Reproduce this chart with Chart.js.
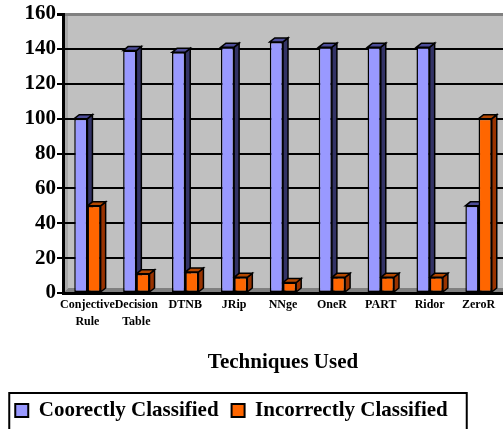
<!DOCTYPE html>
<html>
<head>
<meta charset="utf-8">
<script src="https://cdn.jsdelivr.net/npm/chart.js@4/dist/chart.umd.min.js"></script>
<style>
  html, body { margin: 0; padding: 0; background: #fff; }
  #wrap { width: 503px; height: 429px; }
</style>
</head>
<body>
<div id="wrap"><canvas id="chart" width="503" height="429"></canvas></div>
<script>
const techniques = [['Conjective', 'Rule'], ['Decision', 'Table'], 'DTNB', 'JRip', 'NNge', 'OneR', 'PART', 'Ridor', 'ZeroR'];
const correctlyClassified = [100, 139, 138, 141, 144, 141, 141, 141, 50];
const incorrectlyClassified = [50, 11, 12, 9, 6, 9, 9, 9, 100];
const yTicks = [0, 20, 40, 60, 80, 100, 120, 140, 160];

const serif = '"Liberation Serif", "Times New Roman", serif';

// 3D look: side + top faces, drawn before the front faces so neighbours cover them
const depthPlugin = {
    id: 'depth',
    beforeDraw(chart) {
        const {ctx, chartArea: a} = chart;
        ctx.save();
        ctx.fillStyle = '#C0C0C0';
        ctx.fillRect(a.left, a.top, a.right - a.left, a.bottom - a.top);
        // floor
        ctx.fillStyle = '#808080';
        ctx.beginPath();
        ctx.moveTo(a.left, a.bottom);
        ctx.lineTo(a.left + 5, a.bottom - 5);
        ctx.lineTo(a.right, a.bottom - 5);
        ctx.lineTo(a.right, a.bottom);
        ctx.closePath();
        ctx.fill();
        // left wall
        ctx.fillStyle = '#A8A8A8';
        ctx.beginPath();
        ctx.moveTo(a.left, a.top + 3);
        ctx.lineTo(a.left + 5, a.top);
        ctx.lineTo(a.left + 5, a.bottom - 5);
        ctx.lineTo(a.left, a.bottom);
        ctx.closePath();
        ctx.fill();
        ctx.restore();
    },
    beforeDatasetsDraw(chart) {
        const ctx = chart.ctx;
        const dx = 5, dy = 4;
        const sides = ['#333366', '#993300'];
        const tops = ['#4D4D99', '#B34700'];
        ctx.save();
        ctx.lineWidth = 1.5;
        ctx.strokeStyle = '#000';
        chart.data.datasets.forEach((ds, i) => {
            chart.getDatasetMeta(i).data.forEach(bar => {
                const {x, y, base, width} = bar.getProps(['x', 'y', 'base', 'width'], true);
                const l = x - width / 2, r = x + width / 2;
                ctx.fillStyle = sides[i];
                ctx.beginPath();
                ctx.moveTo(r, y);
                ctx.lineTo(r + dx, y - dy);
                ctx.lineTo(r + dx, base - dy);
                ctx.lineTo(r, base);
                ctx.closePath();
                ctx.fill();
                ctx.stroke();
                ctx.fillStyle = tops[i];
                ctx.beginPath();
                ctx.moveTo(l, y);
                ctx.lineTo(l + dx, y - dy);
                ctx.lineTo(r + dx, y - dy);
                ctx.lineTo(r, y);
                ctx.closePath();
                ctx.fill();
                ctx.stroke();
            });
        });
        ctx.restore();
    },
    afterLayout(chart) {
        // legend sits a bit left of centre in the original
        chart.legend.left -= 20;
        chart.legend.right -= 20;
    },
    afterDraw(chart) {
        const lg = chart.legend;
        const pad = lg.options.labels.padding;
        const lw = lg.lineWidths[0];
        const startX = (lg.left + pad + lg.right - lw) / 2;
        const ctx = chart.ctx;
        ctx.save();
        ctx.strokeStyle = '#000';
        ctx.lineWidth = 2;
        ctx.strokeRect(startX - 6, lg.top + pad - 7, lw - pad + 25, 60);
        ctx.restore();
    }
};

new Chart(document.getElementById('chart').getContext('2d'), {
    type: 'bar',
    data: {
        labels: techniques,
        datasets: [{
            label: 'Coorectly Classified',
            data: correctlyClassified,
            backgroundColor: '#9999FF',
            borderColor: '#000',
            borderWidth: 1.5,
            borderSkipped: false
        }, {
            label: 'Incorrectly Classified',
            data: incorrectlyClassified,
            backgroundColor: '#FF6600',
            borderColor: '#000',
            borderWidth: 1.5,
            borderSkipped: false
        }]
    },
    options: {
        responsive: false,
        animation: false,
        layout: { padding: { top: 14, left: 0, right: 0, bottom: -2 } },
        categoryPercentage: 0.54,
        barPercentage: 1.0,
        plugins: {
            tooltip: { enabled: false },
            legend: {
                position: 'bottom',
                labels: {
                    color: '#000',
                    font: { family: serif, size: 21, weight: 'bold' },
                    boxWidth: 13,
                    boxHeight: 13,
                    padding: 13,
                    generateLabels(chart) {
                        return chart.data.datasets.map((ds, i) => ({
                            text: ds.label,
                            fillStyle: ds.backgroundColor,
                            strokeStyle: '#000',
                            lineWidth: 2,
                            datasetIndex: i
                        }));
                    }
                }
            }
        },
        scales: {
            x: {
                grid: { display: false, drawTicks: false },
                border: { color: '#000', width: 3 },
                ticks: {
                    color: '#000',
                    autoSkip: false,
                    maxRotation: 0,
                    padding: 4,
                    font: { family: serif, size: 12, weight: 'bold', lineHeight: 1.4 }
                },
                title: {
                    display: true,
                    text: 'Techniques Used',
                    color: '#000',
                    font: { family: serif, size: 21, weight: 'bold' },
                    padding: { top: 0, bottom: 12 }
                },
                afterFit(scale) { scale.height = 94; }
            },
            y: {
                min: yTicks[0],
                max: yTicks[yTicks.length - 1],
                afterBuildTicks(scale) { scale.ticks = yTicks.map(v => ({ value: v })); },
                grid: {
                    color: ctx => ctx.tick && ctx.tick.value === 160 ? '#808080' : '#000',
                    lineWidth: ctx => ctx.tick && ctx.tick.value === 160 ? 3 : 2,
                    tickLength: 6,
                    tickColor: '#000'
                },
                border: { color: '#000', width: 3 },
                ticks: {
                    color: '#000',
                    padding: 1,
                    font: { family: serif, size: 21, weight: 'bold' }
                },
                afterFit(scale) { scale.width = 63; }
            }
        }
    },
    plugins: [depthPlugin]
});
</script>
</body>
</html>
